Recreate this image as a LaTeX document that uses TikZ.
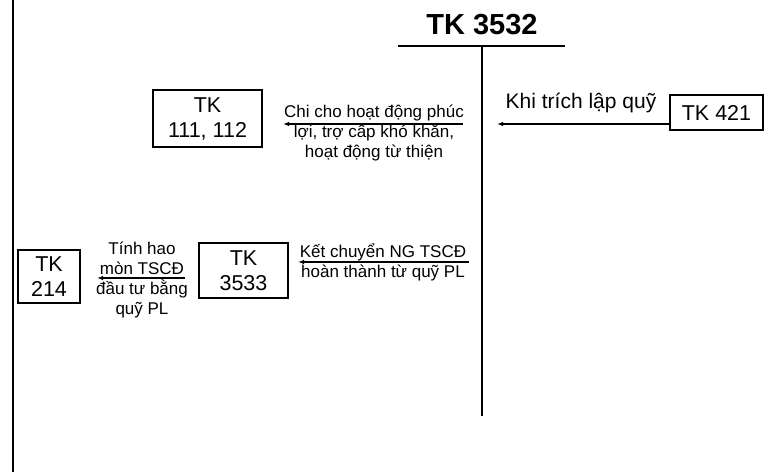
\documentclass[tikz,border=0pt]{standalone}
\usepackage{fontspec}
\setmainfont{Liberation Sans}
\usetikzlibrary{arrows.meta,positioning}

\begin{document}
\begin{tikzpicture}[x=1pt,y=-1pt,every node/.style={inner sep=0pt},
  acct/.style={draw,line width=1.7pt,align=center,font=\fontsize{21.5}{25}\selectfont},
  lbl/.style={align=center,font=\fontsize{17}{20}\selectfont},
  flow/.style={line width=1.2pt,-{Latex[length=6pt,width=4.5pt]}}]
\useasboundingbox (0,0) rectangle (767,472);
% left margin rule
\draw[line width=2.4pt] (13,0) -- (13,472);
% T account
\node[font=\fontsize{29}{32}\selectfont\bfseries] (title) at (482,25) {TK 3532};
\coordinate (tl) at (398,46);
\coordinate (tr) at (565,46);
\coordinate (ttop) at (482,46);
\coordinate (tbot) at (482,416);
\draw[line width=1.6pt] (tl) -- (tr);
\draw[line width=1.6pt] (ttop) -- (tbot);
% account boxes
\node[acct,minimum width=109pt,minimum height=57pt] (tk111) at (207.5,118.5) {TK\\111, 112};
\node[acct,minimum width=93pt,minimum height=35pt] (tk421) at (716.5,112.5) {TK 421};
\node[acct,minimum width=89pt,minimum height=55pt] (tk3533) at (243.5,270.5) {TK\\3533};
\node[acct,minimum width=62pt,minimum height=53pt] (tk214) at (49,276.5) {TK\\214};
% labels
\node[font=\fontsize{21}{24}\selectfont] (lbltrich) at (581,103) {Khi trích lập quỹ};
\node[lbl] (lblchi) at (374,133) {Chi cho hoạt động phúc\\lợi, trợ cấp khó khăn,\\hoạt động từ thiện};
\node[lbl] (lblket) at (383,262) {Kết chuyển NG TSCĐ\\hoàn thành từ quỹ PL};
\node[lbl] (lblhao) at (142,280) {Tính hao\\mòn TSCĐ\\đầu tư bằng\\quỹ PL};
% arrows
\coordinate (a1s) at (tk421.west |- 0,124);
\coordinate (a1e) at (497,124);
\draw[flow] (a1s) -- (a1e);
\coordinate (a2s) at (463,124);
\coordinate (a2e) at (283,124);
\draw[flow] (a2s) -- (a2e);
\coordinate (a3s) at (469,262);
\coordinate (a3e) at (298,262);
\draw[flow] (a3s) -- (a3e);
\coordinate (a4s) at (185,278);
\coordinate (a4e) at (97,278);
\draw[flow] (a4s) -- (a4e);
\end{tikzpicture}
\end{document}
